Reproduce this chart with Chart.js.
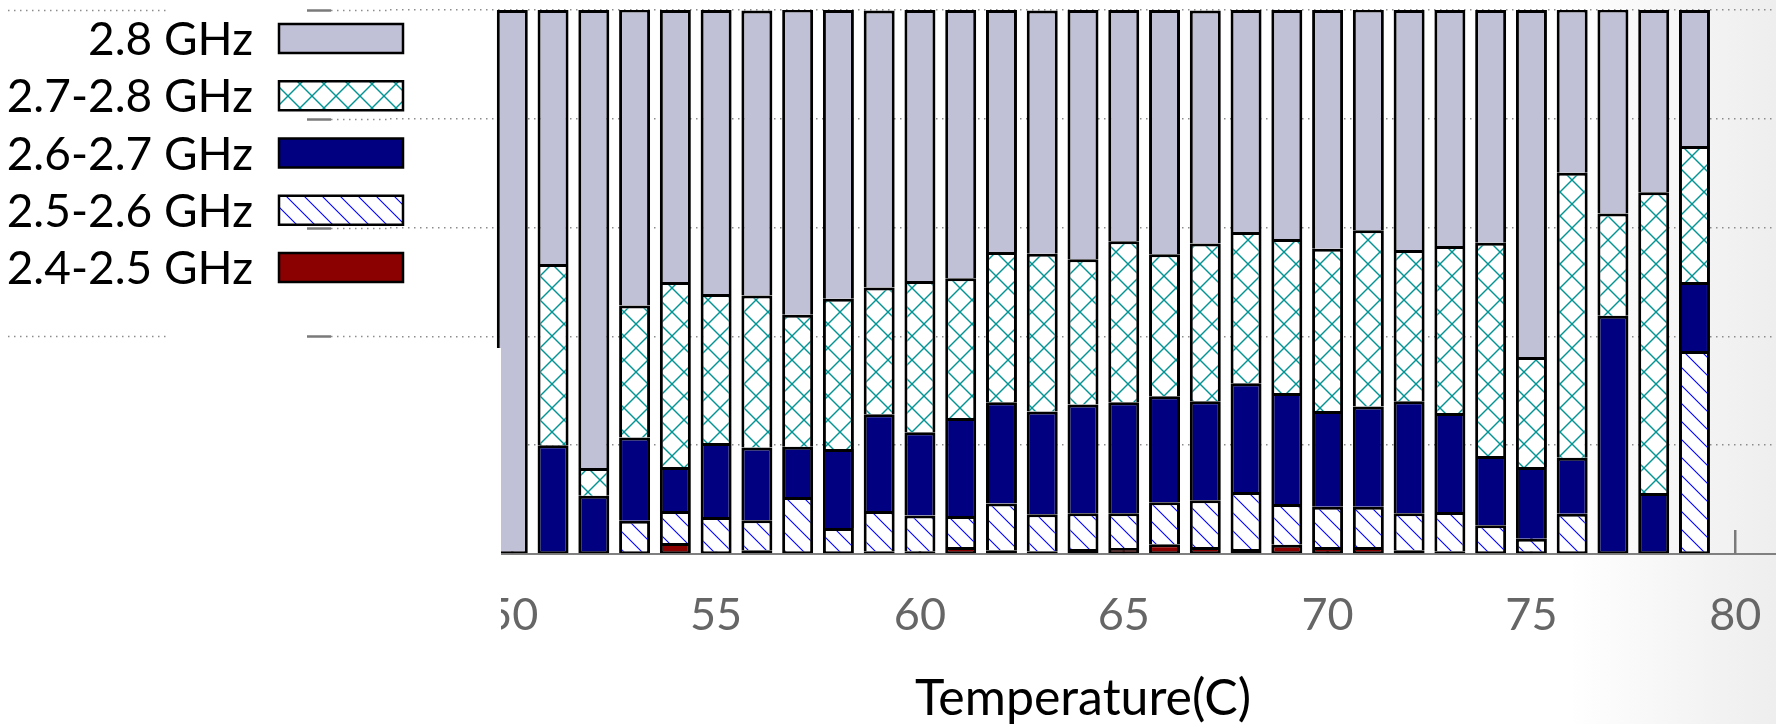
<!DOCTYPE html>
<html>
<head>
<meta charset="utf-8">
<script src="https://cdn.jsdelivr.net/npm/chart.js@4.4.1/dist/chart.umd.min.js"></script>
<style>
  html, body { margin: 0; padding: 0; background: #fff; }
  #wrap { width: 1776px; height: 724px; position: relative; }
</style>
</head>
<body>
<div id="wrap"><canvas id="c"></canvas></div>
<script>
// ---- data (percent of time at each frequency, per temperature) ----
const temps = [50,51,52,53,54,55,56,57,58,59,60,61,62,63,64,65,66,67,68,69,70,71,72,73,74,75,76,77,78,79];
const ghz24_25 = [0,0,0,0,2.0,0,0.7,0,0,0.5,0.5,1.3,0.7,0.5,0.9,1.1,1.8,1.3,0.9,1.7,1.3,1.3,0.7,0.5,0,0,0,0,0,0];
const ghz25_26 = [0,0,0,6.1,5.9,6.8,5.5,10.5,4.8,7.4,6.6,5.7,8.6,6.8,6.6,6.4,7.7,8.6,10.5,7.5,7.4,7.4,6.8,7.2,5.3,2.8,7.4,0,0,37.3];
const ghz26_27 = [0,20.0,10.7,15.3,8.1,13.6,13.4,9.2,14.5,17.8,15.3,18.0,18.6,18.9,20.0,20.4,19.5,18.2,20.0,20.4,17.6,18.4,20.6,18.2,12.7,13.2,10.3,43.8,11.2,12.7];
const ghz27_28 = [0,33.3,5.1,24.3,34.0,27.4,27.9,24.3,27.6,23.3,27.8,25.7,27.6,29.0,26.7,29.6,26.1,29.0,27.8,28.3,29.8,32.4,27.8,30.7,39.2,20.2,52.4,18.8,55.3,25.0];
const ghz28    = [100,46.7,84.2,54.4,50.0,52.2,52.4,56.1,53.1,50.9,49.8,49.3,44.5,44.7,45.8,42.5,44.9,42.8,40.8,42.1,43.9,40.6,44.1,43.4,42.8,63.8,30.0,37.5,33.5,25.0];
const seriesLabels = ['2.4-2.5 GHz','2.5-2.6 GHz','2.6-2.7 GHz','2.7-2.8 GHz','2.8 GHz'];
const xTicks = [50,55,60,65,70,75,80];
const yGridLeft = [100,80,60,40];
const yGridFarLeft = [100,40];

// ---- patterns ----
function crossPattern(color, size) {
  const c = document.createElement('canvas'); c.width = size; c.height = size;
  const g = c.getContext('2d');
  g.fillStyle = '#fff'; g.fillRect(0,0,size,size);
  g.strokeStyle = color; g.lineWidth = 1.4;
  for (let k = -1; k <= 1; k++) {
    g.beginPath(); g.moveTo(-2, -2 + k*size); g.lineTo(size+2, size+2 + k*size); g.stroke();
    g.beginPath(); g.moveTo(-2, size+2 + k*size); g.lineTo(size+2, -2 + k*size); g.stroke();
  }
  return g.createPattern(c, 'repeat');
}
function hatchPattern(color, size) {
  const c = document.createElement('canvas'); c.width = size; c.height = size;
  const g = c.getContext('2d');
  g.fillStyle = '#fff'; g.fillRect(0,0,size,size);
  g.strokeStyle = color; g.lineWidth = 1.1;
  for (let k = -1; k <= 1; k++) {
    g.beginPath(); g.moveTo(-2, -2 + k*size); g.lineTo(size+2, size+2 + k*size); g.stroke();
  }
  return g.createPattern(c, 'repeat');
}
const tealCross = crossPattern('#009494', 24);
const blueHatch = hatchPattern('#0000ff', 18);

const seriesData = [ghz24_25, ghz25_26, ghz26_27, ghz27_28, ghz28];
const fills = ['#8b0000', blueHatch, '#000080', tealCross, '#c0c0d6'];

function borderFor(ctx) {
  const i = ctx.dataIndex, d = ctx.datasetIndex;
  let lowest = true;
  for (let k = 0; k < d; k++) if (seriesData[k][i] > 0) lowest = false;
  return {left: 3, right: 3, top: 3, bottom: lowest ? 2 : 0};
}

const gridColor = '#8c8c8c';

const extras = {
  id: 'extras',
  beforeDraw(chart) {
    const {ctx, width, height} = chart;
    ctx.save();
    ctx.fillStyle = '#fff'; ctx.fillRect(0, 0, width, height);
    const gr = ctx.createLinearGradient(1570, 0, 1776, 0);
    gr.addColorStop(0, 'rgba(236,236,236,0)');
    gr.addColorStop(1, 'rgba(238,238,238,1)');
    ctx.fillStyle = gr; ctx.fillRect(1570, 0, 206, height);
    ctx.restore();
  },
  beforeDatasetsDraw(chart) {
    const {ctx, chartArea} = chart;
    const ys = chart.scales.y, xs = chart.scales.x;
    ctx.save();
    ctx.strokeStyle = gridColor; ctx.lineWidth = 1.5; ctx.setLineDash([1.5, 4.5]);
    yGridLeft.forEach(v => {
      const py = Math.round(ys.getPixelForValue(v)) + 0.5;
      ctx.beginPath(); ctx.moveTo(331, py); ctx.lineTo(chartArea.left, py); ctx.stroke();
    });
    yGridFarLeft.forEach(v => {
      const py = Math.round(ys.getPixelForValue(v)) + 0.5;
      ctx.beginPath(); ctx.moveTo(8, py); ctx.lineTo(168, py); ctx.stroke();
    });
    ctx.setLineDash([]);
    ctx.strokeStyle = '#7a7a7a'; ctx.lineWidth = 2.5;
    yGridLeft.forEach(v => {
      const py = Math.round(ys.getPixelForValue(v)) + 0.5;
      ctx.beginPath(); ctx.moveTo(307, py); ctx.lineTo(331, py); ctx.stroke();
    });
    xTicks.forEach(v => {
      const px = xs.getPixelForValue(v);
      ctx.beginPath(); ctx.moveTo(px, chartArea.bottom); ctx.lineTo(px, chartArea.bottom - 24); ctx.stroke();
    });
    ctx.restore();
  },
  afterDraw(chart) {
    const {ctx} = chart;
    ctx.save();
    ctx.fillStyle = '#fff';
    ctx.fillRect(0, 348, 501, 724 - 348);
    // legend (text left, swatch right)
    const items = chart.data.datasets.slice().reverse();
    items.forEach((ds, k) => {
      const top = 24 + k * 57.25;
      ctx.fillStyle = ds.backgroundColor;
      ctx.fillRect(279, top, 124, 29);
      ctx.strokeStyle = '#000'; ctx.lineWidth = 2.5;
      ctx.strokeRect(279, top, 124, 29);
      ctx.fillStyle = '#000';
      ctx.font = '46px Lato';
      ctx.textAlign = 'right'; ctx.textBaseline = 'alphabetic';
      ctx.fillText(ds.label, 253, top + 31);
    });
    ctx.restore();
  }
};

Chart.defaults.font.family = 'Lato';

new Chart(document.getElementById('c'), {
  type: 'bar',
  data: {
    labels: temps,
    datasets: seriesData.map((arr, k) => ({
      label: seriesLabels[k],
      data: arr,
      backgroundColor: fills[k],
      borderColor: '#000',
      borderWidth: borderFor,
      borderSkipped: false,
      barPercentage: 0.76,
      categoryPercentage: 1.0
    }))
  },
  options: {
    responsive: true,
    maintainAspectRatio: false,
    animation: false,
    events: [],
    layout: { padding: { left: 390, right: 0, top: 10, bottom: 0 } },
    plugins: { legend: { display: false }, tooltip: { enabled: false } },
    scales: {
      x: {
        type: 'linear', min: 47, max: 81, stacked: true, offset: false,
        afterBuildTicks: s => { s.ticks = xTicks.map(v => ({ value: v })); },
        afterFit: s => { s.height = 170; s.paddingLeft = 0; s.paddingRight = 0; },
        grid: { display: false, drawTicks: false },
        border: { display: true, color: '#808080', width: 2 },
        ticks: { color: '#666', font: { size: 45 }, padding: 34, maxRotation: 0, autoSkip: false },
        title: { display: true, text: 'Temperature(C)', color: '#000', font: { size: 50, lineHeight: 1.0 }, padding: { top: 7, bottom: 0 } }
      },
      y: {
        min: 0, max: 100, stacked: true,
        ticks: { display: false, stepSize: 20 },
        grid: { color: gridColor, lineWidth: 1.5, drawTicks: false },
        border: { display: false, dash: [1.5, 4.5] }
      }
    }
  },
  plugins: [extras]
});
</script>
</body>
</html>
